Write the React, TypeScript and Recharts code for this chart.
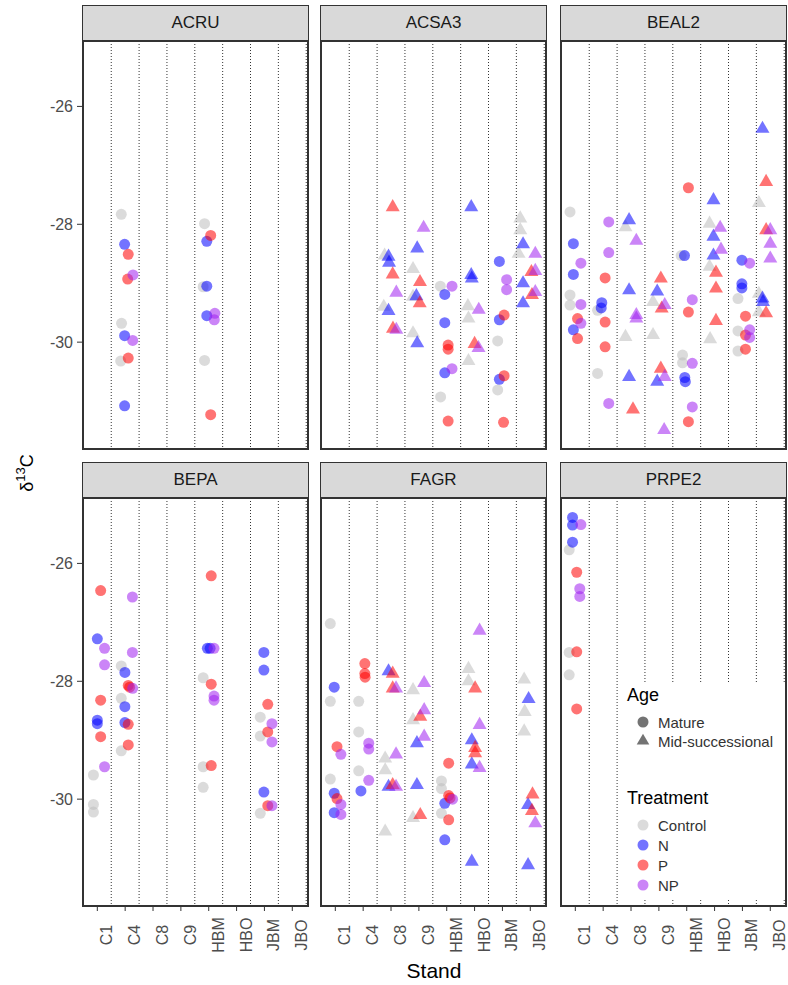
import React from "react";
import { ScatterChart, Scatter, XAxis, YAxis, ReferenceLine } from "recharts";

const stands = ["C1", "C4", "C8", "C9", "HBM", "HBO", "JBM", "JBO"];
const matureStands = ["C1", "C4", "HBM", "JBM"];
const ages = ["Mature", "Mid-successional"];
const treatments = ["C", "N", "P", "NP"];
const treatmentLabels = ["Control", "N", "P", "NP"];
const treatmentColors = ["#BEBEBE", "#0000FF", "#FF0000", "#A020F0"];
const yTicks = [-30, -28, -26];

type Pt = [number, number, string]; // [stand position (1 = C1, jittered), d13C, treatment]

const acru: Pt[] = [
  [1.86, -27.83, "C"], [1.98, -28.34, "N"], [2.11, -28.51, "P"], [2.28, -28.86, "NP"],
  [2.09, -28.93, "P"], [1.87, -29.68, "C"], [1.98, -29.89, "N"], [2.27, -29.97, "NP"],
  [1.84, -30.32, "C"], [2.11, -30.27, "P"], [1.98, -31.08, "N"],
  [4.85, -27.99, "C"], [5.07, -28.19, "P"], [4.93, -28.29, "N"], [4.8, -29.06, "C"],
  [4.93, -29.05, "N"], [4.93, -29.55, "N"], [5.22, -29.51, "NP"], [5.2, -29.62, "NP"],
  [4.85, -30.31, "C"], [5.07, -31.23, "P"],
];

const acsa3: Pt[] = [
  [3.06, -27.71, "P"], [2.77, -28.53, "C"], [2.91, -28.55, "N"], [2.93, -28.65, "N"],
  [3.06, -28.85, "P"], [3.19, -29.16, "NP"], [2.74, -29.4, "C"], [2.91, -29.47, "N"],
  [3.07, -29.77, "P"], [3.19, -29.79, "NP"],
  [4.17, -28.06, "NP"], [3.94, -28.41, "N"], [3.79, -28.76, "C"], [4.04, -28.98, "P"],
  [3.79, -29.23, "C"], [3.91, -29.22, "N"], [4.03, -29.34, "P"], [3.79, -29.85, "C"],
  [3.94, -30.02, "N"],
  [4.77, -29.05, "C"], [5.19, -29.05, "NP"], [4.93, -29.19, "N"], [4.93, -29.67, "N"],
  [5.05, -30.05, "P"], [5.05, -30.12, "P"], [5.19, -30.45, "NP"], [4.93, -30.52, "N"],
  [4.78, -30.93, "C"], [5.05, -31.34, "P"],
  [5.88, -27.71, "N"], [5.88, -28.86, "N"], [5.9, -28.92, "N"], [5.76, -29.39, "C"],
  [6.15, -29.45, "NP"], [5.78, -29.6, "C"], [6.0, -30.03, "P"], [6.14, -30.1, "NP"],
  [5.78, -30.32, "C"],
  [6.89, -28.63, "N"], [7.15, -28.94, "NP"], [7.15, -29.11, "NP"], [7.06, -29.54, "P"],
  [6.89, -29.62, "N"], [6.83, -29.98, "C"], [7.06, -30.57, "P"], [6.89, -30.63, "N"],
  [6.83, -30.81, "C"], [7.04, -31.36, "P"],
  [7.64, -27.9, "C"], [7.64, -28.1, "C"], [7.74, -28.34, "N"], [8.18, -28.5, "NP"],
  [7.58, -28.5, "C"], [8.04, -28.81, "P"], [8.18, -28.79, "NP"], [7.74, -29.0, "N"],
  [8.18, -29.15, "NP"], [8.06, -29.2, "P"], [7.74, -29.34, "N"],
];

const beal2: Pt[] = [
  [0.81, -27.79, "C"], [0.93, -28.33, "N"], [1.2, -28.66, "NP"], [0.93, -28.85, "N"],
  [0.81, -29.2, "C"], [0.81, -29.37, "C"], [1.2, -29.36, "NP"], [1.08, -29.6, "P"],
  [1.2, -29.68, "NP"], [0.93, -29.79, "N"], [1.08, -29.94, "P"],
  [2.2, -27.96, "NP"], [2.2, -28.48, "NP"], [2.07, -28.91, "P"], [1.95, -29.33, "N"],
  [1.93, -29.42, "N"], [1.8, -29.46, "C"], [2.07, -29.66, "P"], [2.07, -30.08, "P"],
  [1.8, -30.53, "C"], [2.2, -31.04, "NP"],
  [2.93, -27.93, "N"], [2.8, -28.05, "C"], [3.19, -28.28, "NP"], [2.93, -29.12, "N"],
  [3.19, -29.54, "NP"], [3.19, -29.6, "NP"], [2.8, -29.91, "C"], [2.93, -30.59, "N"],
  [3.07, -31.14, "P"],
  [4.07, -28.92, "P"], [3.94, -29.14, "N"], [3.79, -29.32, "C"], [4.21, -29.37, "NP"],
  [4.1, -29.43, "P"], [3.79, -29.88, "C"], [4.07, -30.45, "P"], [4.21, -30.59, "NP"],
  [3.94, -30.67, "N"], [4.19, -31.49, "NP"],
  [5.06, -27.38, "P"], [4.8, -28.53, "C"], [4.92, -28.53, "N"], [5.2, -29.28, "NP"],
  [5.06, -29.49, "P"], [4.85, -30.22, "C"], [4.85, -30.35, "C"], [5.2, -30.36, "NP"],
  [4.93, -30.6, "N"], [4.95, -30.67, "N"], [5.2, -31.1, "NP"], [5.06, -31.35, "P"],
  [5.96, -27.59, "N"], [5.82, -27.99, "C"], [6.2, -28.06, "NP"], [5.96, -28.21, "N"],
  [6.23, -28.43, "NP"], [5.96, -28.53, "N"], [5.82, -28.72, "C"], [6.05, -28.82, "P"],
  [6.05, -29.09, "P"], [6.05, -29.64, "P"], [5.84, -29.95, "C"],
  [6.98, -28.61, "N"], [7.26, -28.66, "NP"], [6.98, -29.01, "N"], [6.98, -29.08, "N"],
  [6.84, -29.26, "C"], [7.11, -29.56, "P"], [6.84, -29.81, "C"], [7.26, -29.79, "NP"],
  [7.11, -29.88, "P"], [7.26, -29.92, "NP"], [6.84, -30.15, "C"], [7.11, -30.12, "P"],
  [7.72, -26.38, "N"], [7.85, -27.28, "P"], [7.59, -27.64, "C"], [7.85, -28.1, "P"],
  [8.0, -28.1, "NP"], [8.0, -28.33, "NP"], [8.0, -28.58, "NP"], [7.59, -29.18, "C"],
  [7.72, -29.26, "N"], [7.74, -29.32, "N"], [7.59, -29.49, "C"], [7.85, -29.51, "P"],
];

const bepa: Pt[] = [
  [1.12, -26.46, "P"], [1.0, -27.28, "N"], [1.26, -27.44, "NP"], [1.26, -27.72, "NP"],
  [1.12, -28.32, "P"], [1.0, -28.66, "N"], [1.0, -28.72, "N"], [1.12, -28.94, "P"],
  [1.26, -29.45, "NP"], [0.86, -29.59, "C"], [0.86, -30.09, "C"], [0.86, -30.22, "C"],
  [2.26, -26.57, "NP"], [2.26, -27.51, "NP"], [1.86, -27.74, "C"], [1.99, -27.85, "N"],
  [2.11, -28.07, "P"], [2.16, -28.1, "P"], [2.27, -28.12, "NP"], [1.86, -28.29, "C"],
  [1.99, -28.43, "N"], [1.99, -28.7, "N"], [2.11, -28.73, "P"], [2.11, -29.08, "P"],
  [1.86, -29.18, "C"],
  [5.09, -26.21, "P"], [4.95, -27.44, "N"], [5.05, -27.44, "N"], [5.19, -27.44, "NP"],
  [4.8, -27.94, "C"], [5.09, -28.05, "P"], [5.19, -28.25, "NP"], [5.19, -28.32, "NP"],
  [4.8, -29.45, "C"], [5.09, -29.43, "P"], [4.8, -29.8, "C"],
  [6.98, -27.51, "N"], [6.98, -27.81, "N"], [7.12, -28.39, "P"], [6.85, -28.61, "C"],
  [7.27, -28.72, "NP"], [7.12, -28.86, "P"], [6.85, -28.93, "C"], [7.27, -29.03, "NP"],
  [6.98, -29.88, "N"], [7.12, -30.11, "P"], [7.27, -30.11, "NP"], [6.85, -30.24, "C"],
];

const fagr: Pt[] = [
  [0.82, -27.02, "C"], [0.96, -28.1, "N"], [0.82, -28.34, "C"], [1.06, -29.11, "P"],
  [1.2, -29.24, "NP"], [0.82, -29.66, "C"], [0.96, -29.9, "N"], [1.06, -29.99, "P"],
  [1.2, -30.09, "NP"], [0.96, -30.23, "N"], [1.2, -30.26, "NP"],
  [2.06, -27.7, "P"], [2.06, -27.87, "P"], [2.07, -27.93, "P"], [1.84, -28.34, "C"],
  [1.84, -28.86, "C"], [2.2, -29.05, "NP"], [2.2, -29.15, "NP"], [1.84, -29.52, "C"],
  [2.2, -29.68, "NP"], [1.92, -29.86, "N"],
  [2.91, -27.83, "N"], [3.06, -27.87, "P"], [3.06, -28.12, "P"], [3.18, -28.12, "NP"],
  [2.79, -29.31, "C"], [3.18, -29.24, "NP"], [2.79, -29.51, "C"], [2.91, -29.79, "N"],
  [3.06, -29.76, "P"], [3.18, -29.79, "NP"], [2.79, -30.55, "C"],
  [4.19, -28.03, "NP"], [3.79, -28.15, "C"], [4.19, -28.49, "NP"], [4.05, -28.6, "P"],
  [3.79, -28.66, "C"], [4.19, -28.94, "NP"], [3.93, -29.05, "N"], [3.93, -29.76, "N"],
  [4.05, -30.27, "P"], [3.79, -30.32, "C"],
  [5.07, -29.39, "P"], [4.81, -29.69, "C"], [4.81, -29.82, "C"], [5.07, -29.94, "P"],
  [5.12, -29.98, "P"], [5.21, -30.0, "NP"], [4.93, -30.07, "N"], [4.81, -30.24, "C"],
  [5.07, -30.35, "P"], [4.93, -30.69, "N"],
  [6.18, -27.14, "NP"], [5.78, -27.79, "C"], [5.78, -28.0, "C"], [6.02, -28.12, "P"],
  [6.18, -28.74, "NP"], [5.9, -29.0, "N"], [6.02, -29.13, "P"], [6.02, -29.22, "P"],
  [5.9, -29.41, "N"], [6.18, -29.47, "NP"], [5.9, -31.06, "N"],
  [7.78, -27.97, "C"], [7.94, -28.3, "N"], [7.8, -28.52, "C"], [7.78, -28.85, "C"],
  [8.08, -29.92, "P"], [7.92, -30.1, "N"], [8.06, -30.2, "P"], [8.18, -30.41, "NP"],
  [7.92, -31.12, "N"],
];

const prpe2: Pt[] = [
  [0.9, -25.22, "N"], [0.9, -25.35, "N"], [1.2, -25.34, "NP"], [0.9, -25.64, "N"],
  [0.78, -25.77, "C"], [1.05, -26.15, "P"], [1.16, -26.43, "NP"], [1.16, -26.56, "NP"],
  [0.78, -27.51, "C"], [1.05, -27.5, "P"], [0.78, -27.89, "C"], [1.05, -28.47, "P"],
];

const panels = [
  { name: "ACRU", points: acru },
  { name: "ACSA3", points: acsa3 },
  { name: "BEAL2", points: beal2 },
  { name: "BEPA", points: bepa },
  { name: "FAGR", points: fagr },
  { name: "PRPE2", points: prpe2 },
];

const FONT = '"Liberation Sans", Arial, sans-serif';
const COL_LEFT = [82, 320, 560];
const ROW_TOP = [5, 462];
const PANEL_W = 227;
const STRIP_H = 36;
const PANEL_H = 409;
const Y_AXIS_W = 42;
const X_AXIS_H = 70;
const ALPHA = 0.55;

const standTicks = stands.map((_, i) => i + 1);
const standBounds = stands.map((_, i) => i + 1.5);

const ageOf = (x: number) => (matureStands.includes(stands[Math.round(x) - 1]) ? ages[0] : ages[1]);

function Marker({ cx, cy, fill, age }: { cx: number; cy: number; fill: string; age: string }) {
  if (cx == null || cy == null) return null;
  if (age === ages[0]) {
    return <circle cx={cx} cy={cy} r={5.5} fill={fill} fillOpacity={ALPHA} />;
  }
  const s = 7;
  const h = s * 1.732;
  return (
    <polygon
      points={`${cx},${cy - (2 * h) / 3} ${cx - s},${cy + h / 3} ${cx + s},${cy + h / 3}`}
      fill={fill}
      fillOpacity={ALPHA}
    />
  );
}

function StandTick({ x, y, payload }: any) {
  return (
    <g transform={`translate(${x},${y})`}>
      <text transform="rotate(-90)" x={-22} y={15} textAnchor="middle" fontSize={16} fill="#4d4d4d" fontFamily={FONT}>
        {stands[payload.value - 1]}
      </text>
    </g>
  );
}

function Panel({ name, points, index }: { name: string; points: Pt[]; index: number }) {
  const col = index % 3;
  const row = Math.floor(index / 3);
  const showY = col === 0;
  const showX = row === 1;
  const yw = showY ? Y_AXIS_W : 0;
  const xh = showX ? X_AXIS_H : 0;
  const left = COL_LEFT[col];
  const top = ROW_TOP[row];

  return (
    <>
      <div
        style={{
          position: "absolute",
          left,
          top,
          width: PANEL_W,
          height: STRIP_H,
          boxSizing: "border-box",
          border: "1px solid #333",
          background: "#D9D9D9",
          color: "#1a1a1a",
          fontSize: 17,
          lineHeight: `${STRIP_H - 2}px`,
          textAlign: "center",
        }}
      >
        {name}
      </div>
      <div style={{ position: "absolute", left: left - yw, top: top + STRIP_H }}>
        <ScatterChart width={PANEL_W + yw} height={PANEL_H + xh} margin={{ top: 0, right: 0, bottom: 0, left: 0 }}>
          <XAxis
            type="number"
            dataKey="x"
            domain={[0.45, 8.6]}
            ticks={standTicks}
            interval={0}
            allowDataOverflow
            hide={!showX}
            height={xh}
            axisLine={false}
            tickSize={4}
            tickLine={{ stroke: "#333" }}
            tick={<StandTick />}
          />
          <YAxis
            type="number"
            dataKey="y"
            domain={[-31.83, -24.89]}
            ticks={yTicks}
            allowDataOverflow
            hide={!showY}
            width={yw}
            axisLine={false}
            tickSize={5}
            tickMargin={4}
            tickLine={{ stroke: "#333" }}
            tick={{ fontSize: 16, fill: "#4d4d4d", fontFamily: FONT }}
          />
          {standBounds.map((b) => (
            <ReferenceLine key={b} x={b} stroke="#333" strokeWidth={1} strokeDasharray="1 2" />
          ))}
          {treatments.map((t, ti) => (
            <Scatter
              key={t}
              name={treatmentLabels[ti]}
              data={points.filter((p) => p[2] === t).map((p) => ({ x: p[0], y: p[1], age: ageOf(p[0]) }))}
              fill={treatmentColors[ti]}
              isAnimationActive={false}
              shape={(props: any) => (
                <Marker cx={props.cx} cy={props.cy} fill={treatmentColors[ti]} age={props.payload?.age} />
              )}
            />
          ))}
        </ScatterChart>
      </div>
      <div
        style={{
          position: "absolute",
          left,
          top: top + STRIP_H - 1,
          width: PANEL_W,
          height: PANEL_H + 1,
          boxSizing: "border-box",
          border: "2px solid #333",
          pointerEvents: "none",
        }}
      />
    </>
  );
}

function Overlay() {
  const keyX = 643;
  const textX = 658;
  return (
    <svg width={788} height={985} style={{ position: "absolute", left: 0, top: 0, pointerEvents: "none" }} fontFamily={FONT}>
      <text transform="translate(33,473) rotate(-90)" textAnchor="middle" fontSize={18} fill="#000">
        <tspan>δ</tspan>
        <tspan fontSize={13} dy={-8}>13</tspan>
        <tspan dy={8}>C</tspan>
      </text>
      <text x={434} y={970} textAnchor="middle" dominantBaseline="central" fontSize={21} fill="#000">
        Stand
      </text>
      <rect x={624} y={682} width={161} height={217} fill="#fff" />
      <text x={627} y={695} dominantBaseline="central" fontSize={18} fill="#000">Age</text>
      <circle cx={keyX} cy={722} r={5.5} fill="#000" fillOpacity={ALPHA} />
      <text x={textX} y={722} dominantBaseline="central" fontSize={15} fill="#333">{ages[0]}</text>
      <polygon points={`${keyX},${741 - 7.3} ${keyX - 6.3},${741 + 3.6} ${keyX + 6.3},${741 + 3.6}`} fill="#000" fillOpacity={ALPHA} />
      <text x={textX} y={741} dominantBaseline="central" fontSize={15} fill="#333">{ages[1]}</text>
      <text x={627} y={798} dominantBaseline="central" fontSize={18} fill="#000">Treatment</text>
      {treatmentLabels.map((t, i) => (
        <g key={t}>
          <circle cx={keyX} cy={825 + i * 20} r={5.5} fill={treatmentColors[i]} fillOpacity={ALPHA} />
          <text x={textX} y={825 + i * 20} dominantBaseline="central" fontSize={15} fill="#333">{t}</text>
        </g>
      ))}
    </svg>
  );
}

export default function App() {
  return (
    <div style={{ position: "absolute", left: 0, top: 0, width: 788, height: 985, background: "#fff", fontFamily: FONT }}>
      {panels.map((p, i) => (
        <Panel key={p.name} name={p.name} points={p.points} index={i} />
      ))}
      <Overlay />
    </div>
  );
}
